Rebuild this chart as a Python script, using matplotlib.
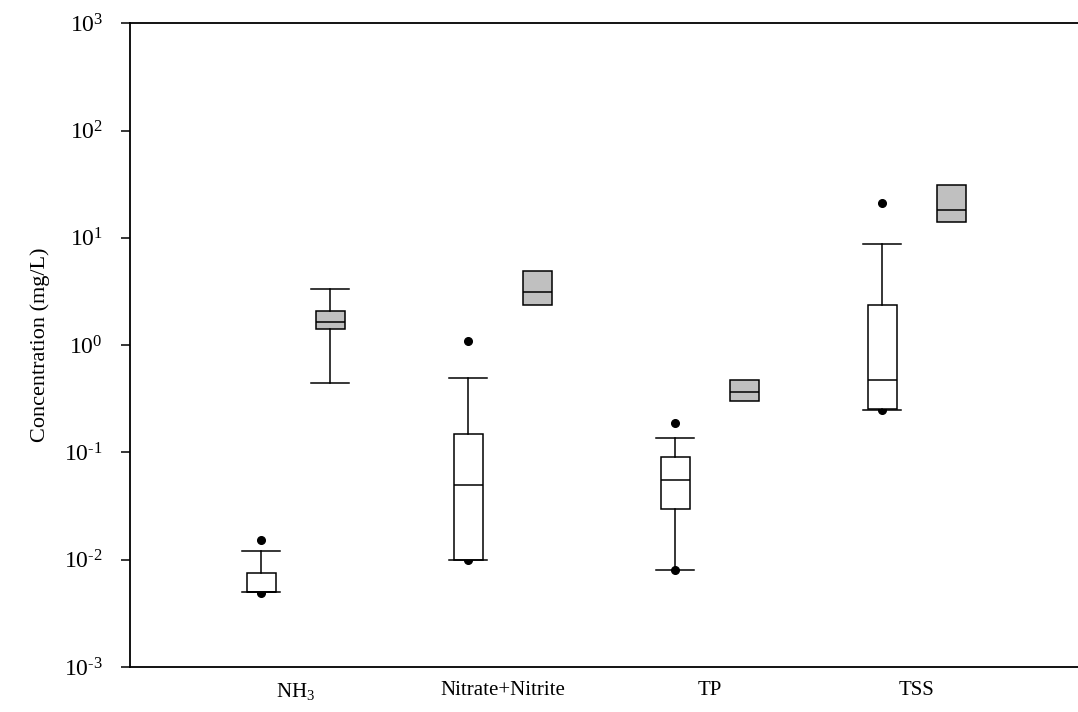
import matplotlib
matplotlib.use("Agg")
import matplotlib.pyplot as plt
import numpy as np

plt.rcParams['font.family'] = ['Liberation Serif', 'DejaVu Serif']
plt.rcParams['mathtext.fontset'] = 'custom'
plt.rcParams['mathtext.rm'] = 'Liberation Serif'
plt.rcParams['mathtext.it'] = 'Liberation Serif:italic'
plt.rcParams['mathtext.bf'] = 'Liberation Serif:bold'
plt.rcParams['axes.unicode_minus'] = False

categories = [r'NH$_3$', 'Nitrate+Nitrite', 'TP', 'TSS']
y_ticks = [1e-3, 1e-2, 1e-1, 1e0, 1e1, 1e2, 1e3]

# white boxes (first series)
w_whislo = [0.005, 0.010, 0.008, 0.25]
w_q1 = [0.005, 0.010, 0.030, 0.252]
w_med = [0.005, 0.050, 0.055, 0.476]
w_q3 = [0.0075, 0.149, 0.091, 2.35]
w_whishi = [0.012, 0.493, 0.137, 8.83]
w_fliers = [[0.0154, 0.0049], [1.10, 0.0099], [0.19, 0.0081], [21.0, 0.248]]

# gray boxes (second series)
g_whislo = [0.44, 2.38, 0.301, 14.0]
g_q1 = [1.41, 2.38, 0.301, 14.0]
g_med = [1.63, 3.13, 0.367, 18.2]
g_q3 = [2.08, 4.94, 0.472, 31.2]
g_whishi = [3.36, 4.94, 0.472, 31.2]
g_fliers = [[], [], [], []]

fig = plt.figure(figsize=(10.78, 7.12), dpi=100)
ax = fig.add_axes([130/1078, 1 - 667/712, 1 - 130/1078, (667 - 23.3)/712])

groups = np.arange(1, len(categories) + 1)
offset = 1/6
box_w = 0.14
cap_w = 0.184

def stats(lo, q1, med, q3, hi, fl):
    return [dict(whislo=a, q1=b, med=c, q3=d, whishi=e, fliers=f)
            for a, b, c, d, e, f in zip(lo, q1, med, q3, hi, fl)]

lw = 1.1
common = dict(widths=box_w, patch_artist=True, showfliers=True,
              whiskerprops=dict(color='black', linewidth=lw),
              capprops=dict(color='black', linewidth=lw),
              medianprops=dict(color='black', linewidth=lw),
              flierprops=dict(marker='o', markerfacecolor='black',
                              markeredgecolor='black', markersize=5.5,
                              zorder=1.5))

ax.bxp(stats(w_whislo, w_q1, w_med, w_q3, w_whishi, w_fliers),
       positions=groups - offset, capwidths=cap_w,
       boxprops=dict(facecolor='white', edgecolor='black', linewidth=lw),
       **common)
g_caps = [cap_w if (hi > q3 or lo < q1) else 0.0
          for lo, q1, q3, hi in zip(g_whislo, g_q1, g_q3, g_whishi)]
ax.bxp(stats(g_whislo, g_q1, g_med, g_q3, g_whishi, g_fliers),
       positions=groups + offset, capwidths=g_caps,
       boxprops=dict(facecolor='#c0c0c0', edgecolor='black', linewidth=lw),
       **common)

def fmt(v, pos):
    e = int(round(np.log10(v)))
    if e < 0:
        return r'$10^{\text{-}%d}$' % (-e)
    return r'$10^{%d}$' % e

ax.set_yscale('log')
ax.set_ylim(1e-3, 1e3)
ax.set_xlim(0.199, 4.779)
ax.set_yticks(y_ticks)
ax.yaxis.set_major_formatter(matplotlib.ticker.FuncFormatter(fmt))
ax.yaxis.set_minor_locator(matplotlib.ticker.NullLocator())
ax.set_xticks(groups)
ax.set_xticklabels(categories)

ax.tick_params(axis='x', length=0, labelsize=15, pad=10)
ax.tick_params(axis='y', direction='out', length=6.5, width=1.1, labelsize=17, pad=13)
ax.spines['right'].set_visible(False)
for s in ['left', 'top', 'bottom']:
    ax.spines[s].set_linewidth(1.3)
ax.set_ylabel('Concentration (mg/L)', fontsize=16, labelpad=10)

fig.savefig('out.png', dpi=100)
